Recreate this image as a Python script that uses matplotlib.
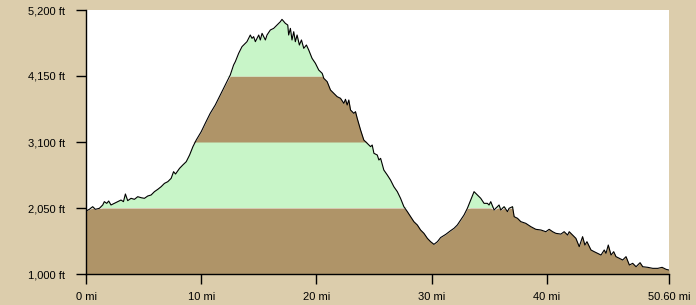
import numpy as np
import matplotlib.pyplot as plt

# elevation profile (miles, feet)
miles = [0.0, 0.29, 0.58, 0.81, 1.16, 1.45, 1.59, 1.8, 1.97, 2.17, 2.46, 2.76, 3.04,
         3.25, 3.42, 3.62, 3.91, 4.2, 4.49, 4.78, 5.07, 5.36, 5.65, 5.94, 6.23, 6.52,
         6.81, 7.1, 7.39, 7.6, 7.77, 8.12, 8.4, 8.7, 8.99, 9.28, 9.57, 10.0, 10.35,
         10.78, 11.22, 11.65, 12.09, 12.52, 12.81, 12.96, 13.25, 13.54, 13.68, 13.97,
         14.26, 14.41, 14.55, 14.7, 14.99, 15.13, 15.28, 15.57, 15.71, 16.0, 16.29,
         16.58, 16.87, 17.01, 17.3, 17.51, 17.59, 17.74, 17.88, 18.03, 18.17, 18.32,
         18.52, 18.7, 18.9, 19.13, 19.33, 19.62, 19.91, 20.2, 20.5, 20.64, 20.93,
         21.22, 21.51, 21.8, 22.09, 22.38, 22.52, 22.67, 22.81, 22.96, 23.25, 23.39,
         23.54, 23.83, 24.11, 24.41, 24.7, 24.84, 24.99, 25.28, 25.42, 25.57, 25.85,
         26.15, 26.43, 26.72, 27.02, 27.3, 27.59, 27.89, 28.17, 28.46, 28.76, 29.04,
         29.33, 29.63, 29.91, 30.2, 30.5, 30.78, 31.22, 31.65, 31.94, 32.23, 32.52,
         32.81, 33.1, 33.39, 33.68, 33.97, 34.26, 34.55, 34.84, 34.98, 35.13, 35.42,
         35.71, 35.85, 36.0, 36.29, 36.58, 36.72, 37.02, 37.16, 37.45, 37.74, 38.17,
         38.61, 39.04, 39.48, 39.91, 40.2, 40.5, 40.78, 41.22, 41.5, 41.8, 41.94,
         42.23, 42.52, 42.81, 43.1, 43.3, 43.48, 43.83, 44.11, 44.41, 44.7, 44.98,
         45.13, 45.33, 45.57, 45.8, 46.0, 46.29, 46.58, 46.87, 47.16, 47.45, 47.74,
         48.09, 48.32, 48.76, 49.19, 49.63, 50.0, 50.35, 50.6]
elev = [2002, 2029, 2071, 2029, 2045, 2098, 2151, 2124, 2161, 2098, 2124, 2151, 2177,
        2151, 2273, 2167, 2204, 2188, 2230, 2214, 2204, 2241, 2257, 2310, 2347, 2389,
        2442, 2469, 2522, 2628, 2591, 2681, 2734, 2787, 2893, 3026, 3132, 3264, 3397,
        3556, 3689, 3848, 4007, 4166, 4325, 4378, 4511, 4617, 4643, 4696,
        4802, 4749, 4776, 4696, 4802, 4723, 4829, 4723, 4802, 4882, 4908,
        4961, 5014, 5051, 4988, 4961, 4802, 4908, 4723, 4855, 4696, 4802,
        4643, 4723, 4590, 4643, 4564, 4431, 4352, 4245, 4192, 4113, 4060,
        3927, 3874, 3821, 3795, 3715, 3779, 3689, 3768, 3609, 3556, 3583,
        3476, 3291, 3132, 3079, 3026, 3052, 2920, 2893, 2814, 2840, 2654,
        2575, 2495, 2389, 2310, 2204, 2071, 1992, 1912, 1832, 1779, 1700,
        1647, 1567, 1514, 1472, 1514, 1580, 1630, 1690, 1727, 1780, 1859,
        1939, 2045, 2177, 2310, 2257, 2204, 2124, 2124, 2098, 2151, 2018,
        2071, 2098, 2018, 2071, 1992, 2045, 2071, 1912, 1886, 1833, 1806,
        1753, 1711, 1700, 1673, 1711, 1673, 1647, 1635, 1673, 1620, 1673,
        1620, 1567, 1435, 1594, 1461, 1514, 1382, 1355, 1329, 1302, 1382,
        1329, 1461, 1302, 1355, 1276, 1249, 1223, 1276, 1143, 1170, 1116,
        1180, 1116, 1106, 1090, 1090, 1106, 1074, 1063]

y_ticks = [1000, 2050, 3100, 4150, 5200]
y_labels = ['1,000 ft', '2,050 ft', '3,100 ft', '4,150 ft', '5,200 ft']
x_ticks = [0, 10, 20, 30, 40, 50.6]
x_labels = ['0 mi', '10 mi', '20 mi', '30 mi', '40 mi', '50.60 mi']

band_colors = ['#af9468', '#c8f5c8', '#af9468', '#c8f5c8']

plt.rcParams['font.family'] = ['Liberation Sans', 'DejaVu Sans']

fig = plt.figure(figsize=(6.96, 3.05), dpi=100, facecolor='#dccdac')
ax = fig.add_axes([86 / 696, 1 - 274 / 305, 583 / 696, 264 / 305])
ax.set_facecolor('white')

x = np.array(miles)
y = np.array(elev)
# colour bands between the tick levels
for lo, hi, c in zip(y_ticks[:-1], y_ticks[1:], band_colors):
    ax.fill_between(x, lo, np.clip(y, lo, hi), where=y > lo, color=c, lw=0,
                    interpolate=True)
ax.plot(x, y, color='black', lw=0.8)

ax.set_xlim(0, 50.6)
ax.set_ylim(1000, 5200)
ax.set_xticks(x_ticks)
ax.set_xticklabels(x_labels)
ax.set_yticks(y_ticks)
ax.set_yticklabels(y_labels)
ax.tick_params(axis='y', length=7, width=1, pad=8, labelsize=8)
ax.tick_params(axis='x', length=7, width=1, pad=6, labelsize=8)
for s in ['top', 'right']:
    ax.spines[s].set_visible(False)
for s in ['left', 'bottom']:
    ax.spines[s].set_linewidth(1)

fig.savefig('out.png', dpi=100, facecolor=fig.get_facecolor())
